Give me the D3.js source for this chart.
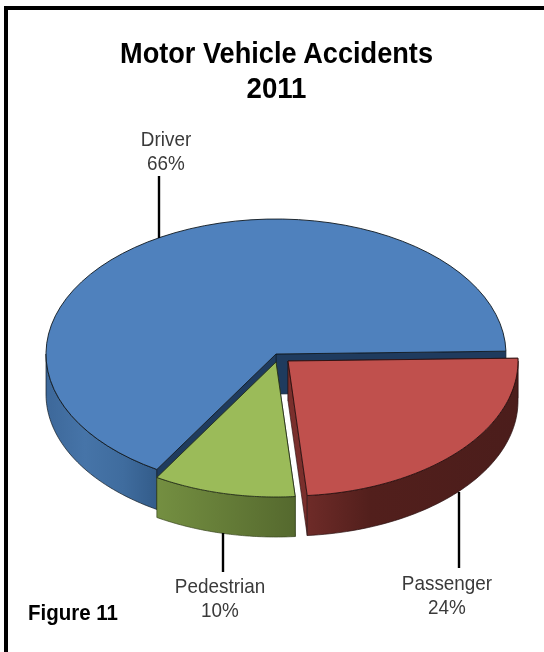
<!DOCTYPE html>
<html><head><meta charset="utf-8">
<script src="https://cdn.jsdelivr.net/npm/d3@7"></script>
<style>html,body{margin:0;padding:0;background:#fff}svg{display:block;filter:blur(0.4px)}</style>
</head><body><svg id="c" width="544" height="652"></svg>
<script>
const categories = ["Driver", "Passenger", "Pedestrian"];
const values = [66, 24, 10];
const topColors = ["#4f81bd", "#c0504d", "#9bbb59"];
const titleLines = ["Motor Vehicle Accidents", "2011"];
const figureLabel = "Figure 11";

const W = 544, H = 652;
const rx = 230, ry = 135, depth = 40;
const rad = d => d * Math.PI / 180;
const centers = [[276, 354], [288, 361], [276, 362]];
const wallGrads = [
  [["0%", "#3d689a"], ["35%", "#4674a8"], ["70%", "#3f6c9e"], ["100%", "#335c8a"]],
  [["0%", "#6e2b28"], ["30%", "#521f1c"], ["100%", "#4b1d1b"]],
  [["0%", "#748f41"], ["100%", "#55692e"]]
];
const labelPos = [[166, 146, 170], [447, 590, 614], [220, 593, 617]];
const leaders = [[159, 176, 238], [459, 492, 568], [223, 533, 572]];

const svg = d3.select("#c");
const defs = svg.append("defs");
wallGrads.forEach((stops, i) => {
  const g = defs.append("linearGradient").attr("id", "wall" + i);
  stops.forEach(s => g.append("stop").attr("offset", s[0]).attr("stop-color", s[1]));
});

// frame
svg.append("rect").attr("x", 4).attr("y", 6).attr("width", W - 4).attr("height", 4).attr("fill", "#000");
svg.append("rect").attr("x", 4).attr("y", 6).attr("width", 4).attr("height", H - 6).attr("fill", "#000");

const pie = d3.pie().sort(null).value(d => d).startAngle(rad(88.8 - 237.6)).endAngle(rad(88.8 + 122.4));
const arcs = pie(values);

const pt = (c, a, dz = 0) => [c[0] + rx * Math.sin(a), c[1] - ry * Math.cos(a) + dz];
const line = d3.line();
const sweep = (c, a0, a1, dz) => d3.range(0, 61).map(k => pt(c, a0 + (a1 - a0) * k / 60, dz));

function topFace(i) {
  const c = centers[i], a = arcs[i];
  return line([c, ...sweep(c, a.startAngle, a.endAngle, 0)]) + "Z";
}
function outerWall(i) {
  const c = centers[i], a = arcs[i];
  const wrap = a.startAngle < 0 ? 2 * Math.PI : 0;
  const from = Math.max(a.startAngle + wrap, rad(90));
  const to = a.startAngle < 0 ? rad(270) : Math.min(a.endAngle, rad(270));
  return line([...sweep(c, from, to, 0), ...sweep(c, to, from, depth)]) + "Z";
}
function radialWall(i, ang) {
  const c = centers[i];
  const p = pt(c, ang);
  return line([c, p, [p[0], p[1] + depth], [c[0], c[1] + depth]]) + "Z";
}
const edge = "#10181f";
const g = svg.append("g");

// Driver: front rim, then the cut walls visible through the exploded gaps
g.append("path").attr("d", outerWall(0)).attr("fill", "url(#wall0)").attr("stroke", edge).attr("stroke-width", 0.7);
g.append("path").attr("d", radialWall(0, arcs[0].endAngle)).attr("fill", "#1f3b5e").attr("stroke", "#10202f").attr("stroke-width", 0.7);
g.append("path").attr("d", radialWall(0, arcs[0].startAngle)).attr("fill", "#1f3b5e").attr("stroke", "#10202f").attr("stroke-width", 0.7);
g.append("path").attr("d", topFace(0)).attr("fill", topColors[0]).attr("stroke", edge).attr("stroke-width", 0.9);

// Pedestrian
g.append("path").attr("d", radialWall(2, arcs[2].startAngle)).attr("fill", "#55692e").attr("stroke", "#2c3618").attr("stroke-width", 0.6);
g.append("path").attr("d", outerWall(2)).attr("fill", "url(#wall2)").attr("stroke", "#3a4620").attr("stroke-width", 0.7);
g.append("path").attr("d", topFace(2)).attr("fill", topColors[2]).attr("stroke", "#26301a").attr("stroke-width", 0.9);

// Passenger
g.append("path").attr("d", radialWall(1, arcs[1].startAngle)).attr("fill", "#6e2b28").attr("stroke", "#2a1010").attr("stroke-width", 0.6);
g.append("path").attr("d", radialWall(1, arcs[1].endAngle)).attr("fill", "#7a2f2c").attr("stroke", "#2a1010").attr("stroke-width", 0.6);
g.append("path").attr("d", outerWall(1)).attr("fill", "url(#wall1)").attr("stroke", "#2a1010").attr("stroke-width", 0.7);
g.append("path").attr("d", topFace(1)).attr("fill", topColors[1]).attr("stroke", "#2a1010").attr("stroke-width", 0.9);

// leader lines
svg.selectAll("line.leader").data(leaders).join("line").attr("class", "leader")
  .attr("x1", d => d[0]).attr("x2", d => d[0]).attr("y1", d => d[1]).attr("y2", d => d[2])
  .attr("stroke", "#000").attr("stroke-width", 2.4);

const font = "'Liberation Sans', Arial, sans-serif";
// labels
categories.forEach((name, i) => {
  const [x, y1, y2] = labelPos[i];
  [[name, y1], [values[i] + "%", y2]].forEach(([t, y]) => {
    svg.append("text").attr("x", x).attr("y", y).attr("text-anchor", "middle")
      .attr("font-family", font).attr("font-size", 21).attr("fill", "#3a3a3a")
      .attr("transform", `translate(${x},0) scale(0.9,1) translate(${-x},0)`).text(t);
  });
});
// title
svg.append("text").attr("x", 276.5).attr("y", 63).attr("text-anchor", "middle")
  .attr("font-family", font).attr("font-weight", "bold").attr("font-size", 29).attr("fill", "#000")
  .attr("textLength", 313).attr("lengthAdjust", "spacingAndGlyphs").text(titleLines[0]);
svg.append("text").attr("x", 276.5).attr("y", 98).attr("text-anchor", "middle")
  .attr("font-family", font).attr("font-weight", "bold").attr("font-size", 29).attr("fill", "#000")
  .attr("textLength", 60).attr("lengthAdjust", "spacingAndGlyphs").text(titleLines[1]);
svg.append("text").attr("x", 28).attr("y", 620).attr("font-family", font).attr("font-weight", "bold")
  .attr("font-size", 22).attr("fill", "#000")
  .attr("textLength", 90).attr("lengthAdjust", "spacingAndGlyphs").text(figureLabel);
</script></body></html>
